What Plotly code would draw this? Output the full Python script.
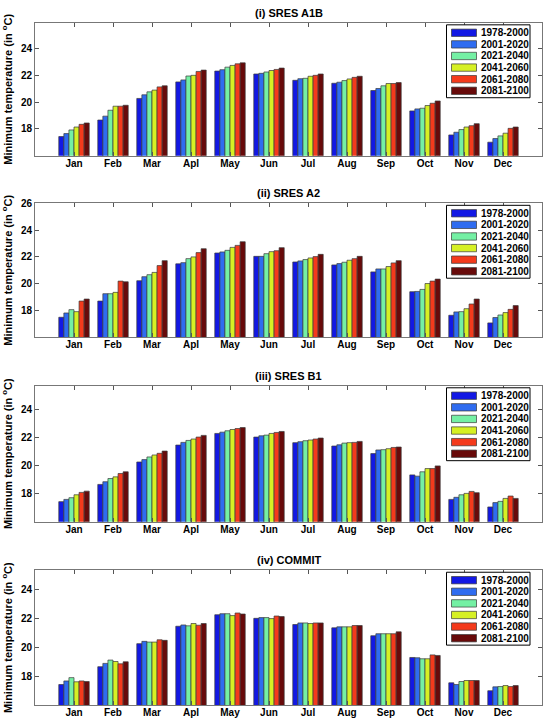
import plotly.graph_objects as go

months = ["Jan", "Feb", "Mar", "Apl", "May", "Jun", "Jul", "Aug", "Sep", "Oct", "Nov", "Dec"]
periods = ["1978-2000", "2001-2020", "2021-2040", "2041-2060", "2061-2080", "2081-2100"]
colors = ["#1218e4", "#2f6cf0", "#74f0a4", "#d6f024", "#f43a1c", "#680a0a"]

# minimum temperature (deg C), one list per period, Jan..Dec
a1b = [
    [17.43, 18.66, 20.27, 21.50, 22.31, 22.09, 21.62, 21.40, 20.86, 19.34, 17.55, 17.01],
    [17.65, 18.95, 20.54, 21.65, 22.41, 22.14, 21.74, 21.48, 21.01, 19.49, 17.75, 17.28],
    [17.92, 19.39, 20.76, 21.94, 22.60, 22.24, 21.77, 21.60, 21.21, 19.54, 17.95, 17.48],
    [18.14, 19.69, 20.89, 21.99, 22.73, 22.35, 21.92, 21.72, 21.38, 19.74, 18.14, 17.68],
    [18.34, 19.69, 21.13, 22.28, 22.85, 22.43, 21.99, 21.84, 21.38, 19.91, 18.24, 18.04],
    [18.44, 19.76, 21.21, 22.38, 22.92, 22.53, 22.09, 21.92, 21.45, 20.08, 18.39, 18.14],
]
a2 = [
    [17.49, 18.70, 20.22, 21.48, 22.29, 22.04, 21.62, 21.40, 20.88, 19.40, 17.64, 17.07],
    [17.81, 19.25, 20.52, 21.57, 22.37, 22.04, 21.70, 21.50, 21.10, 19.42, 17.89, 17.47],
    [18.06, 19.25, 20.67, 21.87, 22.49, 22.24, 21.80, 21.60, 21.10, 19.57, 17.91, 17.66],
    [17.91, 19.35, 20.84, 22.00, 22.71, 22.39, 21.92, 21.75, 21.28, 20.01, 18.13, 17.84],
    [18.70, 20.19, 21.35, 22.32, 22.86, 22.46, 22.02, 21.87, 21.55, 20.19, 18.48, 18.08],
    [18.85, 20.14, 21.72, 22.61, 23.13, 22.69, 22.19, 22.04, 21.72, 20.34, 18.85, 18.36],
]
b1 = [
    [17.43, 18.66, 20.26, 21.47, 22.30, 22.04, 21.64, 21.40, 20.86, 19.34, 17.59, 17.05],
    [17.59, 18.85, 20.43, 21.66, 22.39, 22.13, 21.71, 21.49, 21.12, 19.25, 17.74, 17.36],
    [17.71, 19.08, 20.62, 21.80, 22.49, 22.18, 21.78, 21.61, 21.14, 19.56, 17.92, 17.45],
    [17.92, 19.20, 20.76, 21.90, 22.58, 22.30, 21.83, 21.64, 21.21, 19.79, 18.02, 17.66],
    [18.09, 19.44, 20.88, 22.04, 22.65, 22.37, 21.90, 21.66, 21.30, 19.79, 18.16, 17.83],
    [18.18, 19.56, 21.04, 22.16, 22.72, 22.44, 21.97, 21.73, 21.33, 19.98, 18.07, 17.66],
]
commit = [
    [17.43, 18.67, 20.27, 21.48, 22.28, 22.03, 21.60, 21.37, 20.82, 19.31, 17.55, 17.00],
    [17.68, 18.90, 20.43, 21.57, 22.35, 22.08, 21.71, 21.44, 20.96, 19.29, 17.43, 17.27],
    [17.91, 19.13, 20.38, 21.51, 22.35, 22.08, 21.71, 21.44, 20.96, 19.22, 17.64, 17.29],
    [17.62, 19.03, 20.38, 21.67, 22.22, 22.01, 21.67, 21.44, 20.96, 19.22, 17.71, 17.36],
    [17.68, 18.87, 20.54, 21.55, 22.40, 22.19, 21.71, 21.53, 20.96, 19.49, 17.71, 17.29],
    [17.64, 19.01, 20.50, 21.67, 22.33, 22.15, 21.71, 21.53, 21.09, 19.45, 17.71, 17.36],
]

scenarios = [a1b, a2, b1, commit]
titles = ["(i) SRES A1B", "(ii) SRES A2", "(iii) SRES B1", "(iv) COMMIT"]
y_ranges = [[16, 25.9], [16, 26], [16, 25.7], [16, 25.37]]
y_ticks = [[18, 20, 22, 24], [18, 20, 22, 24, 26], [18, 20, 22, 24], [18, 20, 22, 24]]

W, H = 544, 720
# panel top/bottom in pixels
panels_px = [(17, 151), (199, 334), (383, 520), (569, 705)]
x0, x1 = 35, 542

font = "Liberation Sans, Arial, sans-serif"
fig = go.Figure()
x_pos = list(range(1, 13))

for k, data in enumerate(scenarios):
    n = "" if k == 0 else str(k + 1)
    for i, p in enumerate(periods):
        fig.add_trace(go.Bar(
            x=x_pos, y=data[i], name=p,
            marker=dict(color=colors[i], line=dict(color="#3a3a3a", width=0.7)),
            xaxis="x" + n, yaxis="y" + n,
            showlegend=False,
        ))

shapes = []
annotations = []


def px_x(v):
    return v / W


def px_y(v):
    return 1 - v / H


for k in range(4):
    n = "" if k == 0 else str(k + 1)
    top, bot = panels_px[k]
    fig.update_layout(**{
        "xaxis" + n: dict(
            domain=[x0 / W, x1 / W], anchor="y" + n, range=[0, 13],
            tickvals=x_pos, ticktext=months, ticks="inside", ticklen=4,
            tickcolor="#555", showline=True, linecolor="#777", mirror="ticks",
            showgrid=False, zeroline=False, ticklabelstandoff=-2,
            tickfont=dict(size=10, family=font, weight="bold"),
        ),
        "yaxis" + n: dict(
            domain=[1 - bot / H, 1 - top / H], anchor="x" + n, range=y_ranges[k],
            tickvals=y_ticks[k], ticks="inside", ticklen=4, tickcolor="#555",
            showline=True, linecolor="#777", mirror="ticks",
            showgrid=False, zeroline=False,
            tickfont=dict(size=10, family=font, weight="bold"),
            title=dict(text="Minimum temperature (in <sup>o</sup>C)",
                       font=dict(size=11, family=font, weight="bold"), standoff=6),
        ),
    })
    annotations.append(dict(
        text=titles[k], x=(x0 + x1) / 2 / W, y=px_y(top - 10),
        xref="paper", yref="paper", showarrow=False,
        xanchor="center", yanchor="middle",
        font=dict(size=11, family=font, weight="bold"),
    ))

    # legend box drawn per panel
    lx0, lx1 = 446.5, 530
    ly0, ly1 = top + 2, top + 75.5
    shapes.append(dict(type="rect", xref="paper", yref="paper",
                       x0=px_x(lx0), x1=px_x(lx1), y0=px_y(ly1), y1=px_y(ly0),
                       fillcolor="white", line=dict(color="black", width=1), layer="above"))
    for i, p in enumerate(periods):
        cy = top + 10 + 11.7 * i
        shapes.append(dict(type="rect", xref="paper", yref="paper",
                           x0=px_x(451.5), x1=px_x(476.5),
                           y0=px_y(cy + 3.7), y1=px_y(cy - 3.7),
                           fillcolor=colors[i], line=dict(color="#3a3a3a", width=0.7),
                           layer="above"))
        annotations.append(dict(
            text=p, x=px_x(479), y=px_y(cy), xref="paper", yref="paper",
            showarrow=False, xanchor="left", yanchor="middle",
            font=dict(size=10, family=font, weight="bold"),
        ))

fig.update_layout(
    width=W, height=H,
    margin=dict(l=0, r=0, t=0, b=0),
    paper_bgcolor="white", plot_bgcolor="white",
    barmode="group", bargap=0.22, bargroupgap=0,
    font=dict(family=font, color="black"),
    shapes=shapes, annotations=annotations,
)

fig.write_html("out.html", config={"displayModeBar": False},
               post_script="document.body.style.margin='0px';")
